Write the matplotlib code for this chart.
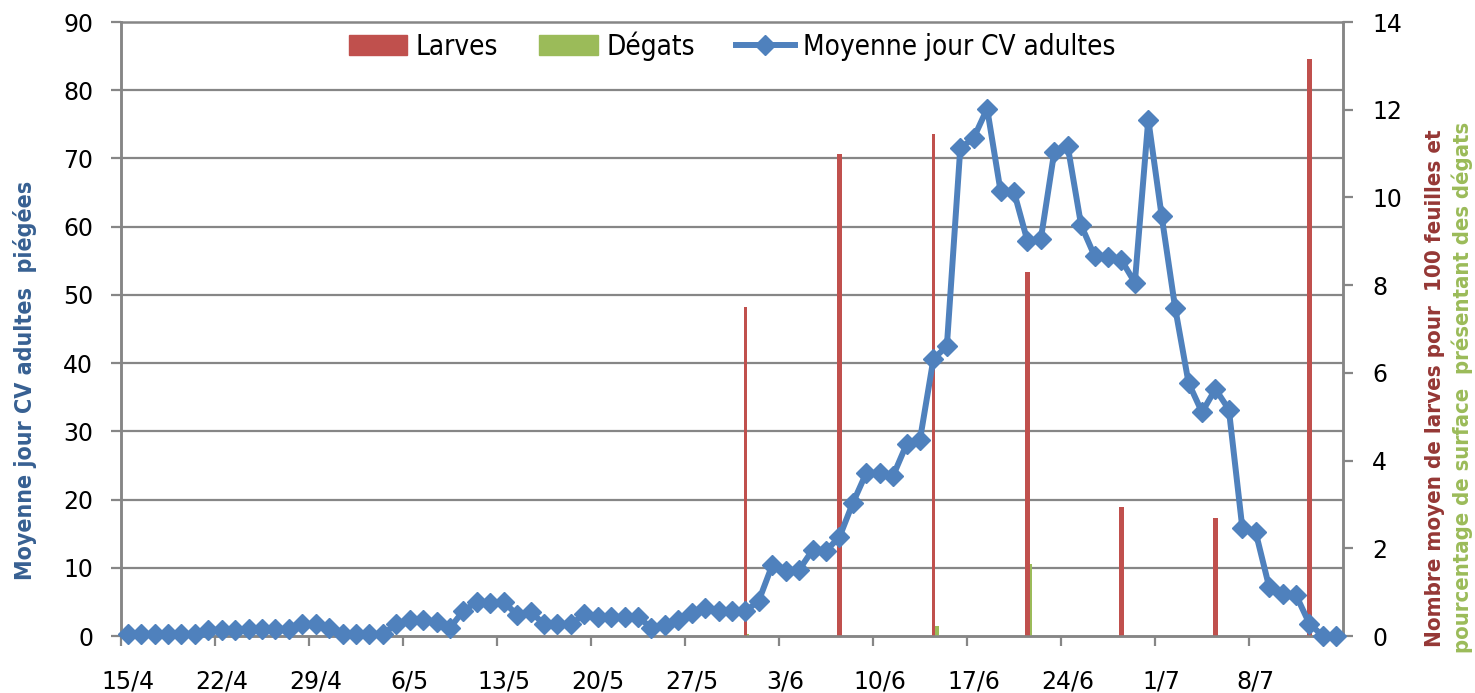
import numpy as np
import pandas as pd
import matplotlib
matplotlib.use("Agg")
import matplotlib.pyplot as plt
from matplotlib import font_manager as fm
from matplotlib.patches import Patch
from matplotlib.lines import Line2D

# ---------------- data ----------------
dates = pd.date_range("2013-04-15", "2013-07-14", freq="D")

adultes = [0.3, 0.3, 0.3, 0.3, 0.3, 0.3, 0.9, 0.9, 0.9, 1.0,
           1.0, 1.0, 1.0, 1.7, 1.7, 1.1, 0.3, 0.3, 0.3, 0.3,
           1.7, 2.3, 2.3, 2.0, 1.2, 3.7, 5.0, 4.8, 5.0, 3.1,
           3.5, 1.8, 1.8, 1.7, 3.2, 2.8, 2.8, 2.8, 2.8, 1.2,
           1.6, 2.4, 3.3, 4.1, 3.6, 3.6, 3.6, 5.2, 10.4, 9.5,
           9.7, 12.6, 12.5, 14.5, 19.5, 23.9, 23.9, 23.5, 28.1, 28.8,
           40.6, 42.5, 71.5, 73.0, 77.3, 65.2, 65.1, 57.9, 58.2, 71.0,
           71.8, 60.2, 55.7, 55.6, 55.1, 51.8, 75.7, 61.5, 48.1, 37.1,
           32.8, 36.2, 33.2, 15.9, 15.2, 7.2, 6.1, 6.0, 1.8, 0.0,
           0.0]

obs_dates = pd.to_datetime(["2013-05-31", "2013-06-07", "2013-06-14", "2013-06-21",
                            "2013-06-28", "2013-07-05", "2013-07-12"])
larves = [7.5, 11.0, 11.45, 8.3, 2.95, 2.7, 13.15]
degats = [0.05, 0.0, 0.23, 1.65, 0.0, 0.0, 0.03]

tick_dates = dates[::7]
tick_labels = [f"{d.day}/{d.month}" for d in tick_dates]

# ---------------- style ----------------
BLUE = "#4F81BD"
RED = "#C0504D"
GREEN = "#9BBB59"
GRID = "#868686"
larve_widths = [0.16, 0.34, 0.16, 0.34, 0.34, 0.34, 0.34]   # bar widths in days
degat_widths = [0.16, 0.16, 0.30, 0.16, 0.16, 0.16, 0.16]


def find_condensed(bold):
    """Return a path to a narrow/condensed sans font if one is installed."""
    cands = []
    for f in fm.fontManager.ttflist:
        fn = f.fname.lower()
        nm = f.name.lower()
        narrow = ("narrow" in fn or "condensed" in fn or "narrow" in nm
                  or "condensed" in nm or str(f.stretch) in ("condensed", "semi-condensed", "extra-condensed"))
        if not narrow:
            continue
        w = f.weight if isinstance(f.weight, int) else (700 if "bold" in str(f.weight) else 400)
        if "italic" in fn or "oblique" in fn or f.style != "normal":
            continue
        isbold = w >= 600 or "bold" in fn
        if isbold != bold:
            continue
        if "semibold" in fn or "light" in fn or "extra" in fn or "black" in fn or "thin" in fn or "medium" in fn:
            continue
        pri = 0 if "liberation" in fn else (1 if "dejavu" in fn else 2)
        cands.append((pri, f.fname))
    cands.sort()
    return cands[0][1] if cands else None


pb = find_condensed(True)
pr = find_condensed(False)


def fp(path, size, fallback_weight="normal"):
    if path:
        return fm.FontProperties(fname=path, size=size)
    return fm.FontProperties(family="DejaVu Sans", size=size * 0.85, weight=fallback_weight)


plt.rcParams["font.family"] = ["DejaVu Sans"]

W, H = 1475, 693
fig = plt.figure(figsize=(W / 100, H / 100), dpi=100)
L, R, T, B = 121, 1343, 22, 636
ax = fig.add_axes([L / W, 1 - B / H, (R - L) / W, (B - T) / H])
ax2 = ax.twinx()

day = pd.Timedelta(days=1)

# bars on right axis
ax2.bar(obs_dates, larves, width=np.array(larve_widths), color=RED, align="center", zorder=3)
ax2.bar(obs_dates + pd.to_timedelta(np.array(larve_widths) / 2, unit="D"), degats,
        width=np.array(degat_widths), color=GREEN, align="edge", zorder=3)

# line on left axis
ax.plot(dates, adultes, color=BLUE, lw=4.3, marker="D", markersize=10,
        markerfacecolor=BLUE, markeredgecolor=BLUE, zorder=4, clip_on=False)

ax.set_zorder(ax2.get_zorder() + 1)
ax.patch.set_visible(False)

ax.set_ylim(0, 90)
ax2.set_ylim(0, 14)
ax.set_xlim(dates[0] - day / 2, dates[-1] + day / 2)

ax.set_yticks(np.arange(0, 91, 10))
ax2.set_yticks(np.arange(0, 15, 2))
ax2.set_yticks(np.arange(0, 91, 10) * 14 / 90, minor=True)
ax2.grid(True, which="minor", axis="y", color=GRID, lw=1.6)
ax2.tick_params(axis="y", which="minor", length=0)

ax.set_xticks(tick_dates - day / 2)
ax.set_xticklabels([])
ax.set_xticks(tick_dates, minor=True)
ax.set_xticklabels(tick_labels, minor=True)
ax.tick_params(axis="x", which="major", length=7, width=1.6, color=GRID, direction="out")
ax.tick_params(axis="x", which="minor", length=0, pad=24, labelsize=17)
ax.tick_params(axis="y", length=7, width=1.6, color=GRID, direction="out", pad=13, labelsize=17)
ax2.tick_params(axis="y", which="major", length=7, width=1.6, color=GRID, direction="out",
                pad=14, labelsize=17)

for a in (ax, ax2):
    for s in a.spines.values():
        s.set_color(GRID)
        s.set_linewidth(1.8)
ax.spines["top"].set_visible(False)

# axis titles
fig.text(25 / W, 1 - 380 / H, "Moyenne jour CV adultes  piégées", rotation=90,
         ha="center", va="center", color="#376092", fontproperties=fp(pb, 16.7, "bold"))
fig.text(1435 / W, 1 - 388 / H, "Nombre moyen de larves pour  100 feuilles et", rotation=90,
         ha="center", va="center", color="#953735", fontproperties=fp(pb, 16, "bold"))
fig.text(1462 / W, 1 - 387 / H, "pourcentage de surface  présentant des dégats", rotation=90,
         ha="center", va="center", color=GREEN, fontproperties=fp(pb, 15.8, "bold"))

handles = [Patch(color=RED, label="Larves"),
           Patch(color=GREEN, label="Dégats"),
           Line2D([], [], color=BLUE, lw=4.3, marker="D", markersize=10, label="Moyenne jour CV adultes")]
leg = ax.legend(handles=handles, loc="upper center", bbox_to_anchor=(0.5, 1.026), ncol=3,
                frameon=False, prop=fp(pr, 20),
                handlelength=2.1, handleheight=0.7, handletextpad=0.3, columnspacing=1.5)

fig.savefig("out.png", dpi=100)
